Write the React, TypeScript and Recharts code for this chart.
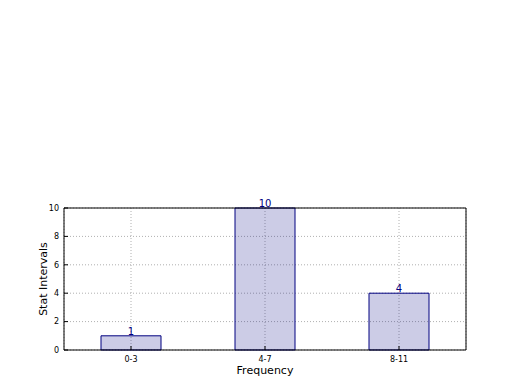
import React from 'react';
import { BarChart, Bar, XAxis, YAxis, CartesianGrid, LabelList } from 'recharts';

const categories = ['0-3', '4-7', '8-11'];
const counts = [1, 10, 4];
const yTicks = [0, 2, 4, 6, 8, 10];

const data = categories.map((name, i) => ({ name, value: counts[i] }));

const font = 'DejaVu Sans, sans-serif';

const App: React.FC = () => {
  return (
    <div style={{ position: 'absolute', left: 0, top: 0, width: 520, height: 390, background: '#fff', fontFamily: font }}>
      <BarChart
        width={520}
        height={390}
        data={data}
        barCategoryGap={0}
        margin={{ top: 207, right: 53, left: 34, bottom: 10 }}
      >
        <CartesianGrid stroke="#b0b0b0" strokeDasharray="1 2" />
        <XAxis
          dataKey="name"
          height={30}
          stroke="#000"
          tickSize={-4}
          tickMargin={10}
          tick={{ fill: '#000', fontSize: 8, fontFamily: font }}
          label={{ value: 'Frequency', position: 'insideBottom', offset: 6, fill: '#000', fontSize: 11, fontFamily: font }}
        />
        <XAxis xAxisId="top" dataKey="name" orientation="top" height={1} stroke="#000" tick={false} tickLine={false} />
        <YAxis
          domain={[0, 10]}
          ticks={yTicks}
          width={30}
          stroke="#000"
          tickSize={-4}
          tickMargin={9}
          interval={0}
          tick={{ fill: '#000', fontSize: 8, fontFamily: font }}
          label={{ value: 'Stat Intervals', angle: -90, position: 'insideLeft', offset: 9, fill: '#000', fontSize: 11, fontFamily: font, style: { textAnchor: 'middle' } }}
        />
        <YAxis yAxisId="right" orientation="right" width={1} domain={[0, 10]} stroke="#000" tick={false} tickLine={false} />
        <Bar dataKey="value" barSize={60} fill="navy" fillOpacity={0.2} stroke="navy" strokeWidth={1} isAnimationActive={false}>
          <LabelList dataKey="value" position="top" offset={1} fill="navy" fontSize={10} fontFamily={font} />
        </Bar>
      </BarChart>
    </div>
  );
};

export default App;
